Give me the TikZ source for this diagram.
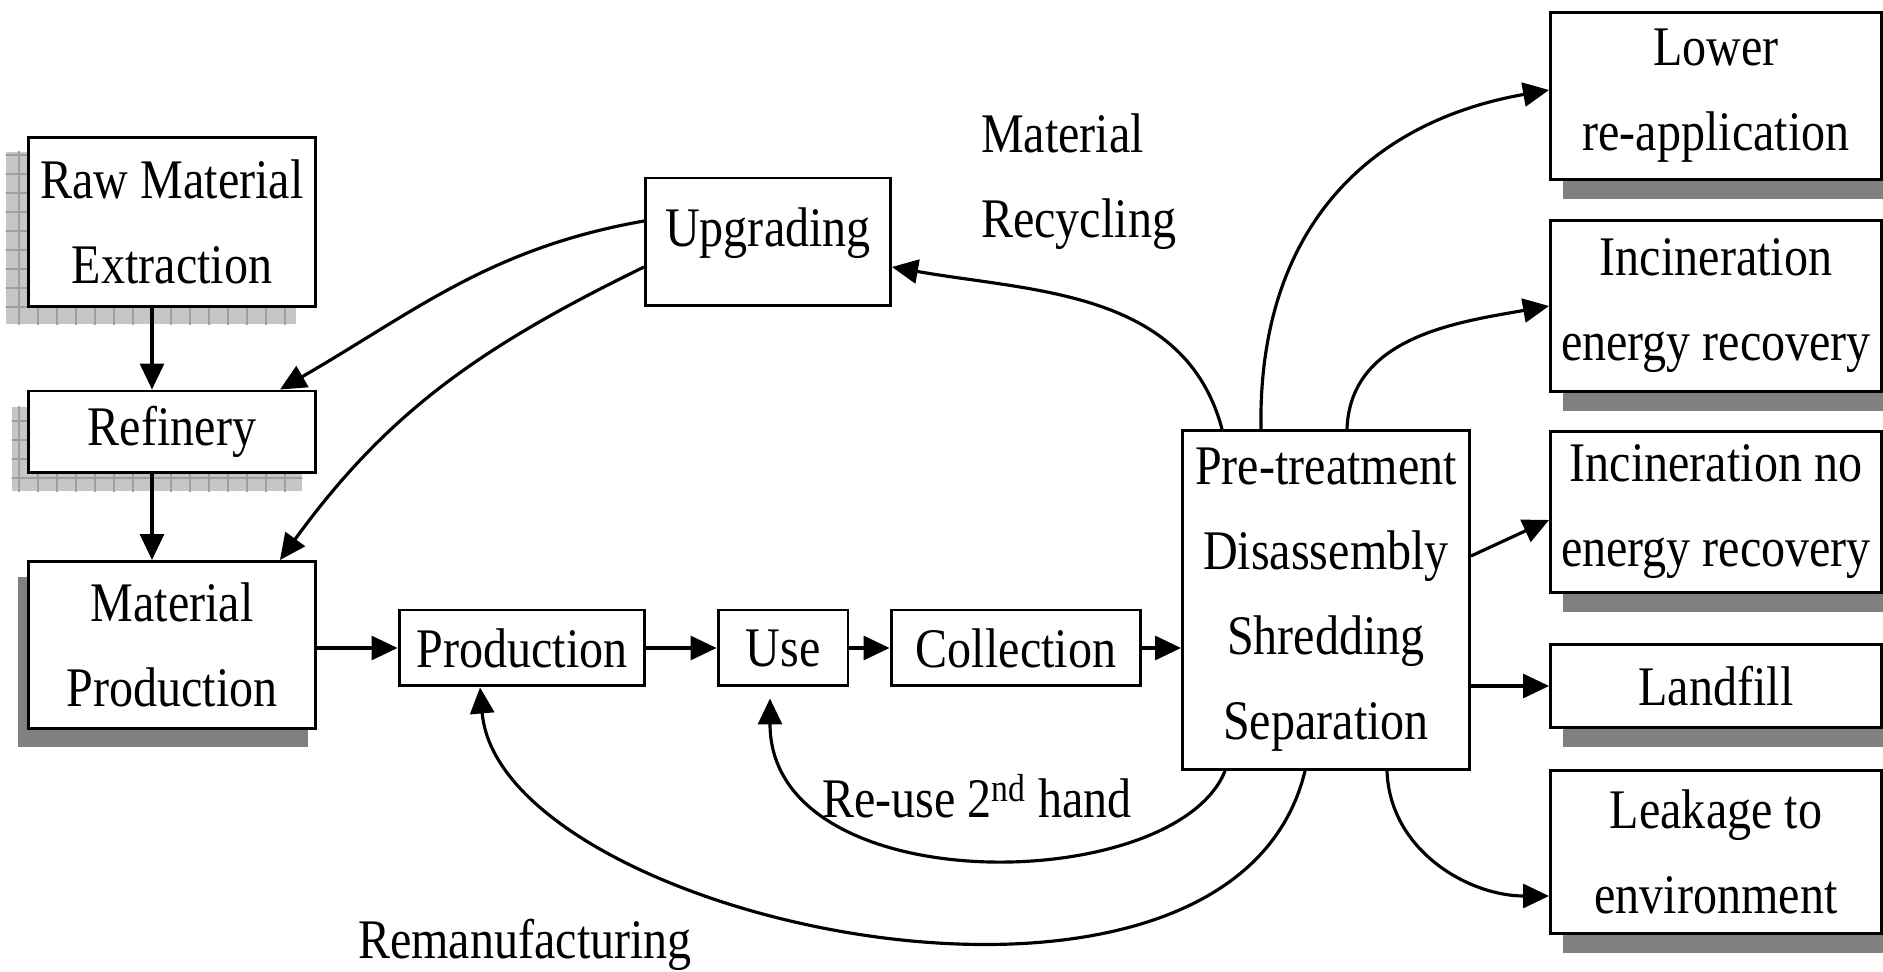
\documentclass[tikz,border=0pt]{standalone}
\usepackage{fontspec}
\setmainfont{Liberation Serif}[FakeStretch=0.86]
\usetikzlibrary{arrows.meta,backgrounds,patterns.meta}

\begin{document}
\begin{tikzpicture}[x=0.02cm,y=0.02cm,
          font=\fontsize{31.8pt}{48.4pt}\selectfont,
          box/.style={draw,line width=1.7pt,fill=white,align=center,inner sep=2pt},
          flow/.style={line width=1.8pt,-{Triangle[length=0.52cm,width=0.48cm]}},
          flat shadow/.style={fill=gray},
          grid shadow/.style={fill=gray!45,postaction={pattern={Hatch[angle=0,distance=0.38cm,line width=0.03cm]},pattern color=gray!75}}]
          \useasboundingbox (0,0) rectangle (1883,-972);

          \node[box,minimum width=5.76cm,minimum height=3.4cm] (raw) at (172,-222) {Raw Material\\Extraction};
          \node[box,minimum width=5.76cm,minimum height=1.64cm] (refinery) at (172,-432) {Refinery};
          \node[box,minimum width=5.76cm,minimum height=3.34cm] (matprod) at (172,-645) {Material\\Production};
          \node[box,minimum width=4.9cm,minimum height=2.56cm,text depth=0.6cm] (upgrading) at (768,-242) {Upgrading};
          \node[box,minimum width=4.92cm,minimum height=1.52cm] (production) at (522,-648) {Production};
          \node[box,minimum width=2.6cm,minimum height=1.52cm] (use) at (783,-648) {Use};
          \node[box,minimum width=5cm,minimum height=1.52cm] (collection) at (1016,-648) {Collection};
          \node[box,minimum width=5.74cm,minimum height=6.78cm] (pretreat) at (1326,-600) {Pre-treatment\\Disassembly\\Shredding\\Separation};
          \node[box,minimum width=6.62cm,minimum height=3.36cm] (lower) at (1716,-96) {Lower\\re-application};
          \node[box,minimum width=6.62cm,minimum height=3.44cm] (incen) at (1716,-306) {Incineration\\energy recovery};
          \node[box,minimum width=6.62cm,minimum height=3.22cm] (incno) at (1716,-512) {Incineration no\\energy recovery};
          \node[box,minimum width=6.62cm,minimum height=1.66cm] (landfill) at (1716,-686) {Landfill};
          \node[box,minimum width=6.62cm,minimum height=3.26cm] (leakage) at (1716,-852) {Leakage to\\environment};

          \node[anchor=west,align=left] (mrec) at (975,-182) {Material\\Recycling};
          \node (reuse) at (977,-796) {Re-use 2\textsuperscript{nd} hand};
          \node (reman) at (525,-945) {Remanufacturing};

          % shadows behind the boxes
          \begin{scope}[on background layer]
            \path[grid shadow] ([shift={(-21,-16)}]raw.south west) rectangle ([shift={(-21,-16)}]raw.north east);
            \path[grid shadow] ([shift={(-15,-17)}]refinery.south west) rectangle ([shift={(-15,-17)}]refinery.north east);
            \path[flat shadow] ([shift={(-9,-17)}]matprod.south west) rectangle ([shift={(-9,-17)}]matprod.north east);
            \foreach \b in {lower,incen,incno,landfill,leakage}
              \path[flat shadow] ([shift={(14,-18)}]\b.south west) rectangle ([shift={(14,-18)}]\b.north east);
          \end{scope}

          \draw[flow] ([shift={(-20,0)}]raw.south) -- ([shift={(-20,0)}]refinery.north);
          \draw[flow] ([shift={(-20,0)}]refinery.south) -- ([shift={(-20,0)}]matprod.north);
          \draw[flow] (matprod.east |- production.west) -- (production.west);
          \draw[flow] (production) -- (use);
          \draw[flow] (use) -- (collection);
          \draw[flow] (collection.east) -- (collection.east -| pretreat.west);

          \draw[flow] ([shift={(0,21)}]upgrading.west) to[out=190,in=30] ([shift={(108,0)}]refinery.north);
          \draw[flow] ([shift={(0,-25)}]upgrading.west) to[out=206,in=54] ([shift={(108,0)}]matprod.north);
          \draw[flow] ([shift={(-104,0)}]pretreat.north) to[out=105,in=-10] ([shift={(0,-25)}]upgrading.east);

          \draw[flow] ([shift={(-65,0)}]pretreat.north) to[out=91,in=190,looseness=1.1] ([shift={(0,6)}]lower.west);
          \draw[flow] ([shift={(21,0)}]pretreat.north) to[out=88,in=190] (incen.west);
          \draw[flow] ([shift={(0,44)}]pretreat.east) -- ([shift={(0,-8)}]incno.west);
          \draw[flow] (landfill.west -| pretreat.east) -- (landfill.west);
          \draw[flow] ([shift={(61,0)}]pretreat.south) to[out=-88,in=180] ([shift={(0,-44)}]leakage.west);

          \draw[flow] ([shift={(-101,0)}]pretreat.south) .. controls +(-50,-125) and +(0,-205) .. ([shift={(-13,-11)}]use.south);
          \draw[flow] ([shift={(-21,0)}]pretreat.south) .. controls +(-75,-310) and +(20,-234) .. ([shift={(-42,0)}]production.south);
        \end{tikzpicture}
\end{document}
